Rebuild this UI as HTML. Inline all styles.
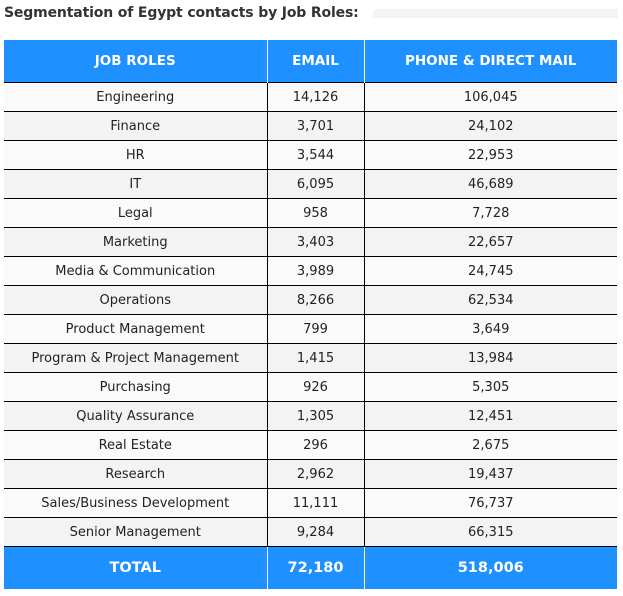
<!DOCTYPE html>
<html><head><meta charset="utf-8">
<style>
body{margin:0;width:623px;height:596px;background:#fff;font-family:"DejaVu Sans","Liberation Sans",sans-serif;overflow:hidden;position:relative}
.title{position:absolute;left:4px;top:5px;font-size:14px;font-weight:bold;color:#333;letter-spacing:-0.15px}
.dots{position:absolute;left:373px;top:9px;width:245px;height:9px;background-image:radial-gradient(#d8d8d8 0.6px,transparent 0.8px);background-size:2px 2px}
table{position:absolute;left:4px;top:40px;width:613px;border-collapse:collapse;font-size:13px;color:#222}
th{background:#1e90ff;color:#fff;font-weight:bold;height:42px;font-size:13.5px;border-left:1px solid #fff;padding:0}
th:first-child{border-left:none}
td{height:27px;text-align:center;border-top:1px solid #000;border-left:1px solid #000;padding:1px 0 0 0}
td:first-child{border-left:none}
tr.o td{background:#fafafa}
tr.e td{background:#f3f3f3}
tr.t td{background:#1e90ff;color:#fff;font-weight:bold;height:42px;padding:0;font-size:14.5px;border-left:1px solid #fff;border-top:1px solid #000}
tr.t td:first-child{border-left:none}
</style></head><body>
<div class="title">Segmentation of Egypt contacts by Job Roles:</div>
<div class="dots"></div>
<table>
<colgroup><col style="width:263px"><col style="width:97px"><col></colgroup>
<thead><tr><th>JOB ROLES</th><th>EMAIL</th><th>PHONE &amp; DIRECT MAIL</th></tr></thead>
<tbody id="tb"></tbody>
</table>
<script>
const roles=["Engineering","Finance","HR","IT","Legal","Marketing","Media & Communication","Operations","Product Management","Program & Project Management","Purchasing","Quality Assurance","Real Estate","Research","Sales/Business Development","Senior Management"];
const email=["14,126","3,701","3,544","6,095","958","3,403","3,989","8,266","799","1,415","926","1,305","296","2,962","11,111","9,284"];
const phone=["106,045","24,102","22,953","46,689","7,728","22,657","24,745","62,534","3,649","13,984","5,305","12,451","2,675","19,437","76,737","66,315"];
const totals=["TOTAL","72,180","518,006"];
const tb=document.getElementById('tb');
roles.forEach((r,i)=>{
 const tr=document.createElement('tr');
 tr.className=i%2?'e':'o';
 
 
 [r,email[i],phone[i]].forEach((v,j)=>{
  const td=document.createElement('td');td.textContent=v;
  
  
  tr.appendChild(td);
 });
 tb.appendChild(tr);
});
const tr=document.createElement('tr');tr.className='t';


totals.forEach((v,j)=>{
 const td=document.createElement('td');td.textContent=v;
 
 
 tr.appendChild(td);
});
tb.appendChild(tr);
</script>
</body></html>
